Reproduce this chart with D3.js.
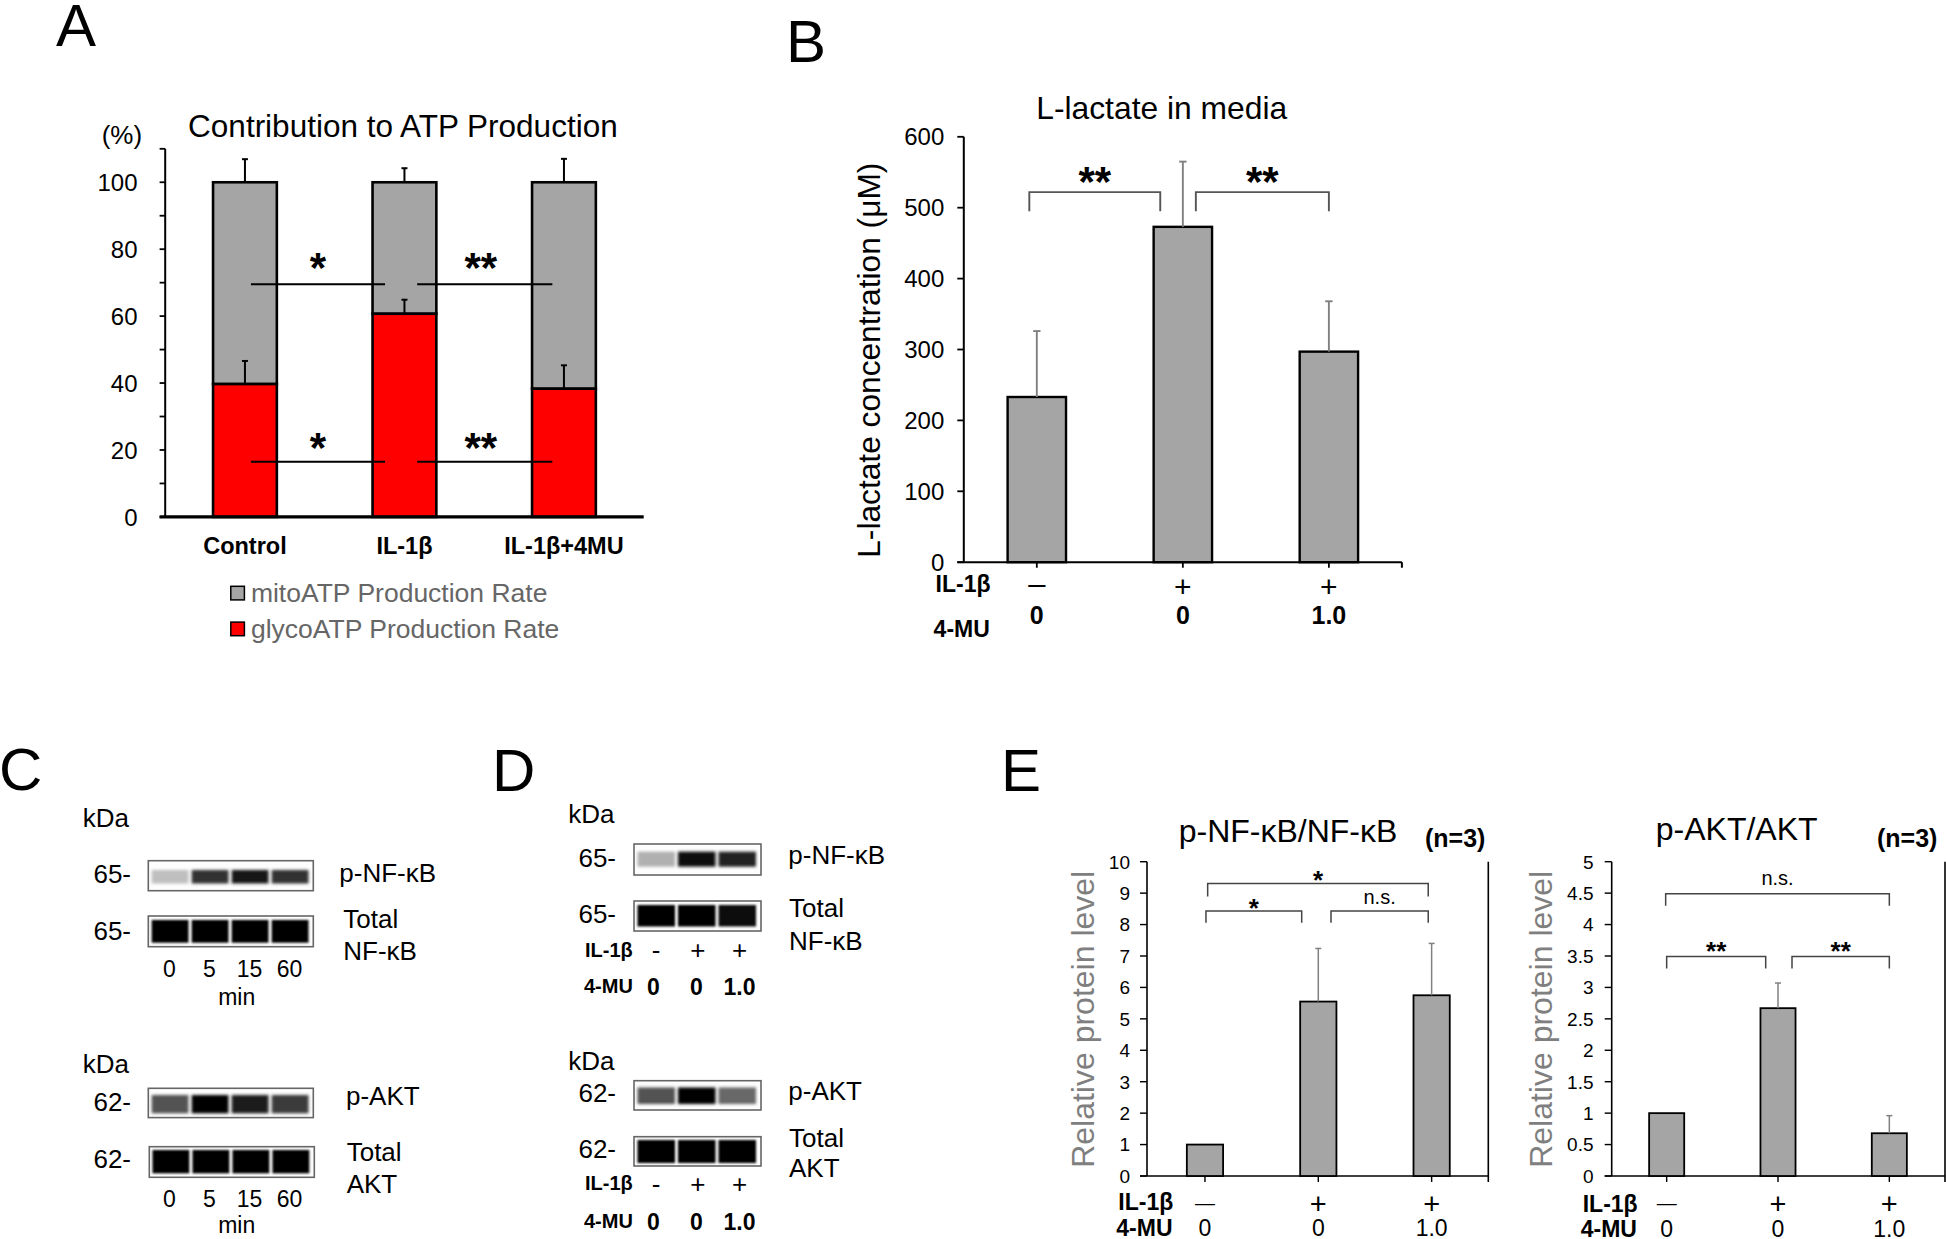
<!DOCTYPE html>
<html><head><meta charset="utf-8">
<script src="https://cdn.jsdelivr.net/npm/d3@7"></script>
<style>
body{margin:0;background:#fff}
svg{display:block}
text{font-family:"Liberation Sans",Arial,Helvetica,sans-serif}
</style>
</head><body>
<svg id="fig" width="1946" height="1239"></svg>
<script>
// ---------------- DATA ----------------
// Panel A
const atpCategories = ["Control", "IL-1β", "IL-1β+4MU"];
const glycoATP = [39.7, 60.7, 38.3];
const mitoATP = [60.3, 39.3, 61.7];
const glycoErr = [6.9, 4.2, 7.0];
const mitoErr = [6.9, 4.2, 7.0];
const atpTicks = [0, 20, 40, 60, 80, 100];
const atpMinorTicks = [0, 10, 20, 30, 40, 50, 60, 70, 80, 90, 100, 110];
const atpLegend = ["mitoATP Production Rate", "glycoATP Production Rate"];
const atpSig = [
  {from: 0, to: 1, level: 69.5, label: "*"},
  {from: 1, to: 2, level: 69.5, label: "**"},
  {from: 0, to: 1, level: 16.5, label: "*"},
  {from: 1, to: 2, level: 16.5, label: "**"}
];
// Panel B
const groups = ["ctrl", "il1b", "il1b_4mu"];
const lactate = [233, 473, 297];
const lactateErr = [93, 92, 71];
const lactateTicks = [0, 100, 200, 300, 400, 500, 600];
const lactateSig = [
  {from: 0, to: 1, level: 522, leg: 495, label: "**"},
  {from: 1, to: 2, level: 522, leg: 495, label: "**"}
];
const il1bSignsB = ["–", "+", "+"];
const muDoseB = ["0", "0", "1.0"];
// Panel C
const timeLabels = ["0", "5", "15", "60"];
const blotC_pNFkB = [0.22, 0.80, 0.92, 0.80];
const blotC_NFkB = [1, 1, 1, 1];
const blotC_pAKT = [0.66, 1.0, 0.88, 0.76];
const blotC_AKT = [1, 1, 1, 1];
// Panel D
const il1bSignsD = ["-", "+", "+"];
const muDoseD = ["0", "0", "1.0"];
const blotD_pNFkB = [0.28, 0.96, 0.86];
const blotD_NFkB = [1, 1, 0.93];
const blotD_pAKT = [0.66, 1.0, 0.58];
const blotD_AKT = [1, 1, 1];
// Panel E
const nfkbRatio = [1.0, 5.55, 5.75];
const nfkbErr = [0, 1.69, 1.65];
const nfkbTicks = [0, 1, 2, 3, 4, 5, 6, 7, 8, 9, 10];
const nfkbSig = [
  {from: 0, to: 2, level: 9.31, leg: 8.89, label: "*"},
  {from: 0, to: 1, level: 8.43, leg: 8.06, label: "*"},
  {from: 1, to: 2, level: 8.43, leg: 8.06, label: "n.s."}
];
const aktRatio = [1.0, 2.67, 0.68];
const aktErr = [0, 0.40, 0.28];
const aktTicks = [0, 0.5, 1, 1.5, 2, 2.5, 3, 3.5, 4, 4.5, 5];
const aktSig = [
  {from: 0, to: 2, level: 4.49, leg: 4.30, label: "n.s."},
  {from: 0, to: 1, level: 3.49, leg: 3.30, label: "**"},
  {from: 1, to: 2, level: 3.49, leg: 3.30, label: "**"}
];
const il1bSignsE = ["—", "+", "+"];
const muDoseE = ["0", "0", "1.0"];

// ---------------- HELPERS ----------------
const svg = d3.select("#fig");
const defs = svg.append("defs");
defs.append("filter").attr("id", "blurP").attr("x", "-30%").attr("y", "-80%").attr("width", "160%").attr("height", "260%")
  .append("feGaussianBlur").attr("stdDeviation", "1.6 1.8");
defs.append("filter").attr("id", "blurT").attr("x", "-30%").attr("y", "-50%").attr("width", "160%").attr("height", "200%")
  .append("feGaussianBlur").attr("stdDeviation", "0.9");

function txt(g, x, y, s, o = {}) {
  const t = g.append("text").attr("x", x).attr("y", y).text(s)
    .attr("font-size", o.size || 20)
    .attr("fill", o.fill || "#000")
    .attr("text-anchor", o.anchor || "start")
    .attr("font-weight", o.weight || "normal");
  if (o.rotate) t.attr("transform", `rotate(${o.rotate},${x},${y})`);
  return t;
}
function line(g, x1, y1, x2, y2, stroke = "#000", w = 1.5) {
  return g.append("line").attr("x1", x1).attr("y1", y1).attr("x2", x2).attr("y2", y2)
    .attr("stroke", stroke).attr("stroke-width", w);
}
const BAR_GRAY = "#a5a5a5";
const STAR_C = 0.56; // asterisk centre height (em) above baseline

// Panel letters
txt(svg, 56, 45.5, "A", {size: 60});
txt(svg, 786, 61.5, "B", {size: 60});
txt(svg, -1, 790, "C", {size: 60});
txt(svg, 492, 791, "D", {size: 60});
txt(svg, 1001, 791, "E", {size: 60});

// ---------------- PANEL A ----------------
(function () {
  const g = svg.append("g");
  const y = d3.scaleLinear().domain([0, 110]).range([516.9, 148.8]);
  const x = d3.scaleBand().domain(atpCategories).range([165.2, 643.7]).paddingInner(0.6).paddingOuter(0.3);
  const cx = i => x(atpCategories[i]) + x.bandwidth() / 2;

  txt(g, 402.9, 136.8, "Contribution to ATP Production", {size: 31.5, anchor: "middle"});
  txt(g, 121.9, 144, "(%)", {size: 26, anchor: "middle"});

  atpCategories.forEach((c, i) => {
    const x0 = x(c), w = x.bandwidth();
    const tot = glycoATP[i] + mitoATP[i];
    g.append("rect").attr("x", x0).attr("y", y(tot)).attr("width", w)
      .attr("height", y(glycoATP[i]) - y(tot))
      .attr("fill", BAR_GRAY).attr("stroke", "#000").attr("stroke-width", 2.6);
    g.append("rect").attr("x", x0).attr("y", y(glycoATP[i])).attr("width", w)
      .attr("height", y(0) - y(glycoATP[i]))
      .attr("fill", "#ff0000").attr("stroke", "#000").attr("stroke-width", 2.6);
    line(g, cx(i), y(tot), cx(i), y(tot + mitoErr[i]), "#000", 2);
    line(g, cx(i) - 3, y(tot + mitoErr[i]), cx(i) + 3, y(tot + mitoErr[i]), "#000", 2);
    line(g, cx(i), y(glycoATP[i]), cx(i), y(glycoATP[i] + glycoErr[i]), "#000", 2);
    line(g, cx(i) - 3, y(glycoATP[i] + glycoErr[i]), cx(i) + 3, y(glycoATP[i] + glycoErr[i]), "#000", 2);
  });

  line(g, 165.2, y(110), 165.2, y(0), "#000", 2);
  atpMinorTicks.forEach(v => line(g, 159.6, y(v), 165.2, y(v), "#000", 1.8));
  atpTicks.forEach(v => txt(g, 137.5, y(v) + 8.6, String(v), {size: 24, anchor: "end"}));
  line(g, 159.6, y(0), 643.7, y(0), "#000", 3.2);
  atpCategories.forEach((c, i) => txt(g, cx(i), 553.5, c, {size: 23.5, weight: "bold", anchor: "middle"}));

  const offs = [[6, -19.4], [12.7, -11.6]];
  atpSig.forEach(s => {
    const o = offs[s.from];
    const x1 = cx(s.from) + o[0], x2 = cx(s.to) + o[1];
    line(g, x1, y(s.level), x2, y(s.level), "#000", 2);
    const yc = y(s.level) - (s.level > 50 ? 26 : 23);
    txt(g, (x1 + x2) / 2 - (s.label.length > 1 ? 4 : 0), yc + STAR_C * 42, s.label, {size: 42, weight: "bold", anchor: "middle"});
  });

  const colors = [BAR_GRAY, "#ff0000"];
  atpLegend.forEach((l, i) => {
    g.append("rect").attr("x", 230.8).attr("y", 586.3 + i * 35.8).attr("width", 13.6).attr("height", 13.6)
      .attr("fill", colors[i]).attr("stroke", "#000").attr("stroke-width", 1.5);
    txt(g, 250.9, 601.9 + i * 35.8, l, {size: 26.5, fill: "#666"});
  });
})();

// ---------------- Generic bar chart (B, E) ----------------
function barChart(cfg) {
  const g = svg.append("g");
  const y = d3.scaleLinear().domain(cfg.domain).range([cfg.y0, cfg.y1]);
  const x = d3.scaleBand().domain(groups).range([cfg.r0, cfg.r1]).paddingInner(cfg.pi).paddingOuter(cfg.pi / 2);
  const cx = i => x(groups[i]) + x.bandwidth() / 2;

  line(g, cfg.axisX, y(cfg.domain[1]), cfg.axisX, y(0), "#000", cfg.axisW);
  cfg.ticks.forEach(v => {
    line(g, cfg.axisX - cfg.tickLen, y(v), cfg.axisX, y(v), "#000", cfg.axisW * 0.9);
    txt(g, cfg.labelX, y(v) + cfg.tickSize * 0.36, cfg.fmt(v), {size: cfg.tickSize, anchor: "end"});
  });
  line(g, cfg.axisX - cfg.tickLen, y(0), cfg.r1, y(0), "#000", cfg.axisW);
  [0, 1, 2].forEach(i => line(g, cx(i), y(0), cx(i), y(0) + cfg.tickLen * 0.85, "#000", cfg.axisW * 0.9));
  line(g, cfg.r1, cfg.rightFrame ? y(cfg.domain[1]) : y(0), cfg.r1, y(0) + cfg.tickLen * 0.85, "#000", cfg.axisW);

  cfg.values.forEach((v, i) => {
    g.append("rect").attr("x", x(groups[i])).attr("y", y(v)).attr("width", x.bandwidth())
      .attr("height", y(0) - y(v)).attr("fill", BAR_GRAY).attr("stroke", "#000").attr("stroke-width", cfg.barW);
    if (cfg.errors[i] > 0) {
      line(g, cx(i), y(v), cx(i), y(v + cfg.errors[i]), "#808080", cfg.errW);
      line(g, cx(i) - cfg.capHalf, y(v + cfg.errors[i]), cx(i) + cfg.capHalf, y(v + cfg.errors[i]), "#808080", cfg.errW);
    }
  });

  cfg.sig.forEach((s, k) => {
    const o = cfg.sigOffsets[k];
    const x1 = cx(s.from) + o[0], x2 = cx(s.to) + o[1];
    const p = `M${x1},${y(s.leg)}V${y(s.level)}H${x2}V${y(s.leg)}`;
    g.append("path").attr("d", p).attr("fill", "none").attr("stroke", cfg.bracketColor).attr("stroke-width", cfg.errW);
    const mx = (x1 + x2) / 2;
    if (s.label === "n.s.") txt(g, mx, y(s.level) - cfg.nsGap, s.label, {size: 20, anchor: "middle"});
    else txt(g, mx, y(s.level) - cfg.starGap + STAR_C * cfg.starSize, s.label, {size: cfg.starSize, weight: "bold", anchor: "middle"});
  });

  txt(g, cfg.titleX, cfg.titleY, cfg.title, {size: cfg.titleSize, anchor: "middle"});
  txt(g, cfg.ylabX, cfg.ylabY, cfg.ylab, {size: cfg.ylabSize, anchor: "middle", rotate: -90, fill: cfg.ylabFill});
  if (cfg.n) txt(g, cfg.nX, cfg.nY, cfg.n, {size: 25, weight: "bold"});

  txt(g, cfg.rowX, cfg.row1Y, "IL-1β", {size: cfg.rowSize, weight: "bold"});
  txt(g, cfg.rowX - 2, cfg.row2Y, "4-MU", {size: cfg.rowSize, weight: "bold"});
  cfg.signs.forEach((s, i) => {
    const isDash = (s !== "+");
    txt(g, cx(i), isDash ? cfg.dashY : cfg.plusY, s, {size: isDash ? cfg.dashSize : cfg.plusSize, anchor: "middle"});
  });
  cfg.doses.forEach((d, i) => txt(g, cx(i), cfg.doseY, d, {size: cfg.doseSize, weight: cfg.doseWeight, anchor: "middle"}));
  return {x, y, g};
}

// ---------------- PANEL B ----------------
barChart({
  domain: [0, 600], y0: 562.2, y1: 136.8, r0: 963.8, r1: 1401.9, pi: 0.6,
  axisX: 963.8, tickLen: 6.5, labelX: 944.3, tickSize: 24, fmt: v => String(v), ticks: lactateTicks,
  axisW: 2, barW: 2.4, errW: 1.9, capHalf: 3.7,
  values: lactate, errors: lactateErr, sig: lactateSig,
  sigOffsets: [[-7.5, -22.6], [13, 0]], bracketColor: "#555", starGap: 20, starSize: 42, nsGap: 8,
  title: "L-lactate in media", titleX: 1161.7, titleY: 119, titleSize: 31.8,
  ylab: "L-lactate concentration (μM)", ylabX: 880, ylabY: 360.2, ylabSize: 31.7, ylabFill: "#000",
  rowX: 935.6, row1Y: 592, row2Y: 637, rowSize: 23,
  signs: il1bSignsB, plusY: 597, dashY: 594, plusSize: 30, dashSize: 31,
  doses: muDoseB, doseY: 624, doseSize: 25, doseWeight: "bold", rightFrame: false
});

// ---------------- PANEL E ----------------
barChart({
  domain: [0, 10], y0: 1176, y1: 861.7, r0: 1148.3, r1: 1488.3, pi: 0.68,
  axisX: 1147, tickLen: 7, labelX: 1130, tickSize: 19, fmt: v => String(v), ticks: nfkbTicks,
  axisW: 1.6, barW: 1.8, errW: 1.5, capHalf: 3,
  values: nfkbRatio, errors: nfkbErr, sig: nfkbSig,
  sigOffsets: [[2.7, -3.4], [1, -16.6], [12.7, -3.4]], bracketColor: "#444", starGap: 8.5, starSize: 26, nsGap: 7,
  title: "p-NF-κB/NF-κB", titleX: 1288, titleY: 841.7, titleSize: 32,
  ylab: "Relative protein level", ylabX: 1094, ylabY: 1019.3, ylabSize: 32, ylabFill: "#7f7f7f",
  n: "(n=3)", nX: 1425, nY: 846.7,
  rowX: 1118.3, row1Y: 1210, row2Y: 1236, rowSize: 23,
  signs: il1bSignsE, plusY: 1214, dashY: 1210, plusSize: 29, dashSize: 20,
  doses: muDoseE, doseY: 1236, doseSize: 23, doseWeight: "normal", rightFrame: true
});
barChart({
  domain: [0, 5], y0: 1176, y1: 861.7, r0: 1611, r1: 1945, pi: 0.685,
  axisX: 1611.7, tickLen: 7, labelX: 1593.5, tickSize: 19, fmt: v => String(v), ticks: aktTicks,
  axisW: 1.6, barW: 1.8, errW: 1.5, capHalf: 3,
  values: aktRatio, errors: aktErr, sig: aktSig,
  sigOffsets: [[-1, 0], [0, -12.3], [14, 0]], bracketColor: "#444", starGap: 11.5, starSize: 26, nsGap: 9,
  title: "p-AKT/AKT", titleX: 1736.7, titleY: 840, titleSize: 32,
  ylab: "Relative protein level", ylabX: 1552, ylabY: 1019.3, ylabSize: 32, ylabFill: "#7f7f7f",
  n: "(n=3)", nX: 1877, nY: 846.7,
  rowX: 1582.7, row1Y: 1212, row2Y: 1236.5, rowSize: 23,
  signs: il1bSignsE, plusY: 1214, dashY: 1210, plusSize: 29, dashSize: 20,
  doses: muDoseE, doseY: 1236.5, doseSize: 23, doseWeight: "normal", rightFrame: true
});

// ---------------- BLOTS (C, D) ----------------
function blot(g, box, lane0, pitch, laneW, bandY0, bandY1, vals, kind) {
  g.append("rect").attr("x", box[0]).attr("y", box[1]).attr("width", box[2]).attr("height", box[3])
    .attr("fill", "#fdfdfd").attr("stroke", "#666").attr("stroke-width", 1.6);
  const shade = d3.scaleLinear().domain([0, 1]).range([245, 0]);
  vals.forEach((v, i) => {
    const c = Math.round(shade(v));
    g.append("rect").attr("x", lane0 + i * pitch).attr("y", bandY0).attr("width", laneW).attr("height", bandY1 - bandY0)
      .attr("fill", `rgb(${c},${c},${c})`).attr("filter", kind === "p" ? "url(#blurP)" : "url(#blurT)");
  });
}
(function () {
  const g = svg.append("g");
  const F = 26;
  // C upper
  txt(g, 82.7, 827.3, "kDa", {size: F});
  txt(g, 131, 882.7, "65-", {size: F, anchor: "end"});
  blot(g, [148.3, 860.7, 165, 30], 151.7, 40, 36.8, 870, 883.5, blotC_pNFkB, "p");
  txt(g, 339.3, 882, "p-NF-κB", {size: F});
  txt(g, 131, 940, "65-", {size: F, anchor: "end"});
  blot(g, [148.3, 916, 165, 30.7], 151.7, 40, 36.8, 920, 942.7, blotC_NFkB, "t");
  txt(g, 343.3, 928.3, "Total", {size: F});
  txt(g, 343.3, 960, "NF-κB", {size: F});
  timeLabels.forEach((t, i) => txt(g, 169.5 + i * 40, 976.7, t, {size: 23, anchor: "middle"}));
  txt(g, 236.7, 1005, "min", {size: 23, anchor: "middle"});
  // C lower
  txt(g, 82.7, 1073.3, "kDa", {size: F});
  txt(g, 131, 1110.7, "62-", {size: F, anchor: "end"});
  blot(g, [148.3, 1088.3, 165, 29.3], 151.7, 40, 36.8, 1095, 1113.3, blotC_pAKT, "p");
  txt(g, 346, 1105, "p-AKT", {size: F});
  txt(g, 131, 1168.3, "62-", {size: F, anchor: "end"});
  blot(g, [149.3, 1146.7, 165, 30.6], 152.5, 40, 36.8, 1150, 1173.3, blotC_AKT, "t");
  txt(g, 346.7, 1160.7, "Total", {size: F});
  txt(g, 346.7, 1193.3, "AKT", {size: F});
  timeLabels.forEach((t, i) => txt(g, 169.5 + i * 40, 1206.7, t, {size: 23, anchor: "middle"}));
  txt(g, 236.7, 1233, "min", {size: 23, anchor: "middle"});

  // D upper
  txt(g, 568.3, 823.3, "kDa", {size: F});
  txt(g, 616, 866.7, "65-", {size: F, anchor: "end"});
  blot(g, [634, 844, 127, 31], 637.5, 40.5, 37.5, 851.7, 866.7, blotD_pNFkB, "p");
  txt(g, 788.3, 864, "p-NF-κB", {size: F});
  txt(g, 616, 922.7, "65-", {size: F, anchor: "end"});
  blot(g, [634, 901, 127, 30], 637.5, 40.5, 37.5, 905, 926.5, blotD_NFkB, "t");
  txt(g, 789, 916.7, "Total", {size: F});
  txt(g, 789, 950, "NF-κB", {size: F});
  txt(g, 585, 956.5, "IL-1β", {size: 20, weight: "bold"});
  il1bSignsD.forEach((s, i) => txt(g, 656 + i * 41.8, 959, s, {size: 26, anchor: "middle"}));
  txt(g, 584, 993.3, "4-MU", {size: 20, weight: "bold"});
  muDoseD.forEach((s, i) => txt(g, 653.5 + i * 43, 995, s, {size: 23, weight: "bold", anchor: "middle"}));
  // D lower
  txt(g, 568.3, 1070, "kDa", {size: F});
  txt(g, 616, 1101.7, "62-", {size: F, anchor: "end"});
  blot(g, [634, 1080.7, 127, 29.3], 637.5, 40.5, 37.5, 1087.5, 1104, blotD_pAKT, "p");
  txt(g, 788.3, 1100, "p-AKT", {size: F});
  txt(g, 616, 1158.3, "62-", {size: F, anchor: "end"});
  blot(g, [634, 1136.7, 127, 29.3], 637.5, 40.5, 37.5, 1140, 1163, blotD_AKT, "t");
  txt(g, 789, 1146.7, "Total", {size: F});
  txt(g, 789, 1176.7, "AKT", {size: F});
  txt(g, 585, 1190, "IL-1β", {size: 20, weight: "bold"});
  il1bSignsD.forEach((s, i) => txt(g, 656 + i * 41.8, 1192.5, s, {size: 26, anchor: "middle"}));
  txt(g, 584, 1228.3, "4-MU", {size: 20, weight: "bold"});
  muDoseD.forEach((s, i) => txt(g, 653.5 + i * 43, 1230, s, {size: 23, weight: "bold", anchor: "middle"}));
})();
</script>
</body></html>
